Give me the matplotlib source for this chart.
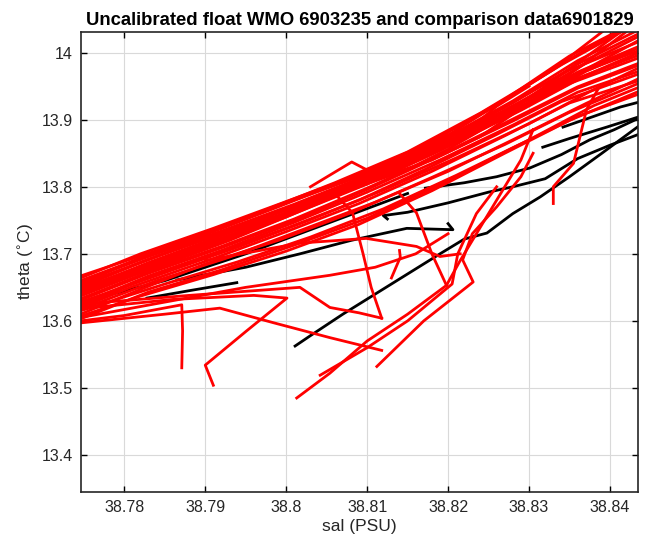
import matplotlib.pyplot as plt

# float profiles forming the main red band (salinity, theta)
band_sal = [
    [38.7746, 38.783, 38.792, 38.801, 38.810, 38.819, 38.828, 38.836, 38.8435],
    [38.7746, 38.782, 38.790, 38.799, 38.808, 38.818, 38.827, 38.835, 38.8435],
    [38.7746, 38.784, 38.793, 38.802, 38.811, 38.820, 38.829, 38.837, 38.8435],
    [38.7746, 38.781, 38.791, 38.800, 38.809, 38.817, 38.826, 38.834, 38.8435],
    [38.7746, 38.785, 38.794, 38.803, 38.812, 38.821, 38.830, 38.838, 38.8435],
    [38.7746, 38.783, 38.792, 38.801, 38.810, 38.819, 38.828, 38.836, 38.8435],
    [38.7746, 38.782, 38.791, 38.800, 38.809, 38.818, 38.827, 38.835, 38.8435],
    [38.7746, 38.784, 38.793, 38.802, 38.811, 38.820, 38.829, 38.837, 38.8435],
    [38.7746, 38.783, 38.792, 38.801, 38.810, 38.819, 38.828, 38.836, 38.8435],
    [38.7746, 38.781, 38.790, 38.799, 38.808, 38.817, 38.826, 38.835, 38.8435],
    [38.7746, 38.784, 38.793, 38.802, 38.811, 38.820, 38.829, 38.837, 38.8435],
    [38.7746, 38.783, 38.792, 38.801, 38.810, 38.819, 38.828, 38.836, 38.8435],
    [38.7746, 38.782, 38.791, 38.800, 38.809, 38.818, 38.827, 38.835, 38.8435],
    [38.7746, 38.785, 38.794, 38.803, 38.812, 38.821, 38.830, 38.838, 38.8435],
    [38.7746, 38.783, 38.792, 38.801, 38.810, 38.819, 38.828, 38.836, 38.8435],
    [38.7746, 38.782, 38.790, 38.799, 38.808, 38.817, 38.826, 38.834, 38.8435],
    [38.7746, 38.784, 38.793, 38.802, 38.811, 38.820, 38.829, 38.837, 38.8435],
    [38.7746, 38.783, 38.792, 38.801, 38.810, 38.819, 38.828, 38.836, 38.8435],
    [38.7746, 38.781, 38.791, 38.800, 38.809, 38.818, 38.827, 38.835, 38.8435],
    [38.7746, 38.784, 38.793, 38.802, 38.811, 38.820, 38.829, 38.837, 38.8435],
    [38.7746, 38.783, 38.792, 38.801, 38.810, 38.819, 38.828, 38.836, 38.8435],
    [38.7746, 38.782, 38.791, 38.800, 38.809, 38.818, 38.827, 38.835, 38.8435],
    [38.7746, 38.783, 38.791, 38.799, 38.807, 38.816, 38.825, 38.834, 38.8435],
    [38.7746, 38.784, 38.792, 38.800, 38.809, 38.818, 38.826, 38.835, 38.8435],
    [38.7746, 38.782, 38.790, 38.798, 38.806, 38.815, 38.824, 38.833, 38.8400],
    [38.7746, 38.785, 38.793, 38.801, 38.810, 38.819, 38.827, 38.836, 38.8435],
    [38.7950, 38.803, 38.806, 38.812, 38.818, 38.824, 38.830, 38.837, 38.8435],
    [38.8000, 38.806, 38.809, 38.815, 38.820, 38.826, 38.832, 38.838, 38.8435],
]
band_theta = [
    [13.603, 13.643, 13.676, 13.713, 13.753, 13.803, 13.858, 13.905, 13.938],
    [13.610, 13.647, 13.685, 13.720, 13.761, 13.814, 13.863, 13.911, 13.954],
    [13.617, 13.660, 13.695, 13.736, 13.777, 13.823, 13.876, 13.924, 13.961],
    [13.622, 13.655, 13.699, 13.738, 13.780, 13.825, 13.878, 13.927, 13.968],
    [13.628, 13.672, 13.710, 13.751, 13.795, 13.843, 13.894, 13.945, 13.977],
    [13.633, 13.673, 13.711, 13.752, 13.798, 13.847, 13.901, 13.949, 13.984],
    [13.637, 13.672, 13.714, 13.755, 13.801, 13.851, 13.903, 13.954, 13.992],
    [13.642, 13.686, 13.725, 13.768, 13.810, 13.860, 13.914, 13.966, 14.000],
    [13.646, 13.687, 13.727, 13.766, 13.808, 13.860, 13.917, 13.971, 14.009],
    [13.650, 13.682, 13.724, 13.763, 13.805, 13.855, 13.913, 13.974, 14.016],
    [13.654, 13.696, 13.734, 13.774, 13.816, 13.868, 13.927, 13.984, 14.024],
    [13.658, 13.696, 13.734, 13.774, 13.817, 13.868, 13.928, 13.988, 14.034],
    [13.664, 13.700, 13.738, 13.778, 13.818, 13.868, 13.930, 13.995, 14.048],
    [13.615, 13.655, 13.688, 13.725, 13.767, 13.817, 13.870, 13.921, 13.948],
    [13.625, 13.667, 13.705, 13.747, 13.792, 13.840, 13.892, 13.941, 13.972],
    [13.639, 13.674, 13.710, 13.754, 13.801, 13.854, 13.908, 13.959, 14.003],
    [13.648, 13.690, 13.728, 13.768, 13.812, 13.863, 13.920, 13.975, 14.018],
    [13.631, 13.671, 13.709, 13.750, 13.796, 13.846, 13.898, 13.947, 13.981],
    [13.620, 13.651, 13.693, 13.733, 13.775, 13.823, 13.876, 13.925, 13.958],
    [13.644, 13.689, 13.727, 13.769, 13.812, 13.862, 13.917, 13.972, 14.007],
    [13.652, 13.692, 13.731, 13.771, 13.814, 13.865, 13.925, 13.983, 14.028],
    [13.607, 13.637, 13.669, 13.704, 13.744, 13.794, 13.850, 13.899, 13.942],
    [13.660, 13.698, 13.733, 13.770, 13.808, 13.855, 13.915, 13.982, 14.045],
    [13.667, 13.705, 13.740, 13.776, 13.815, 13.862, 13.922, 13.990, 14.050],
    [13.655, 13.694, 13.730, 13.768, 13.806, 13.852, 13.910, 13.975, 14.040],
    [13.641, 13.684, 13.720, 13.760, 13.804, 13.854, 13.906, 13.962, 13.996],
    [13.745, 13.782, 13.795, 13.815, 13.840, 13.875, 13.925, 13.985, 14.045],
    [13.765, 13.790, 13.800, 13.826, 13.856, 13.898, 13.950, 14.002, 14.050],
]

# float profiles straying below the band
stray_sal = [
    [38.7746, 38.7800, 38.7871, 38.7872, 38.7871],
    [38.7746, 38.7850, 38.7918, 38.7985, 38.8054, 38.8118],
    [38.7746, 38.7860, 38.7960, 38.8001, 38.7950, 38.7900, 38.7910],
    [38.7746, 38.7880, 38.7960, 38.8017, 38.8054, 38.8090, 38.8118],
    [38.7746, 38.7850, 38.7950, 38.8054, 38.8110, 38.8160, 38.8200],
    [38.8013, 38.8054, 38.8100, 38.8150, 38.8198, 38.8215, 38.8240, 38.8265, 38.8290, 38.8305],
    [38.8042, 38.8100, 38.8150, 38.8205, 38.8212, 38.8235, 38.8260],
    [38.8112, 38.8170, 38.8231, 38.8218, 38.8230, 38.8260, 38.8290, 38.8305],
    [38.8060, 38.8082, 38.8095, 38.8105, 38.8118],
    [38.8140, 38.8161, 38.8180, 38.8198],
    [38.8385, 38.8371, 38.8355, 38.8330, 38.8330],
    [38.8130, 38.8141, 38.8140],
    [38.8030, 38.8081, 38.8100, 38.8150, 38.8194, 38.8230, 38.8260, 38.8300],
    [38.7900, 38.8017, 38.8099, 38.8161, 38.8190, 38.8215],
]
stray_theta = [
    [13.600, 13.608, 13.624, 13.585, 13.530],
    [13.597, 13.610, 13.619, 13.597, 13.575, 13.556],
    [13.618, 13.632, 13.638, 13.634, 13.584, 13.534, 13.504],
    [13.625, 13.638, 13.645, 13.650, 13.620, 13.612, 13.604],
    [13.605, 13.628, 13.650, 13.668, 13.680, 13.700, 13.730],
    [13.485, 13.522, 13.570, 13.610, 13.653, 13.690, 13.740, 13.790, 13.840, 13.885],
    [13.519, 13.560, 13.600, 13.655, 13.700, 13.760, 13.800],
    [13.532, 13.600, 13.658, 13.691, 13.730, 13.770, 13.815, 13.850],
    [13.790, 13.761, 13.700, 13.650, 13.604],
    [13.790, 13.761, 13.700, 13.653],
    [13.945, 13.915, 13.835, 13.800, 13.775],
    [13.664, 13.695, 13.705],
    [13.800, 13.837, 13.825, 13.845, 13.875, 13.890, 13.920, 13.950],
    [13.690, 13.716, 13.723, 13.711, 13.696, 13.700],
]

# comparison data (black)
comp_sal = [
    [38.7746, 38.785, 38.795, 38.805, 38.815],
    [38.8011, 38.8030, 38.8070, 38.8110, 38.8150, 38.8190, 38.8220, 38.8248, 38.8280,
     38.8314, 38.8350, 38.8390, 38.8435],
    [38.7828, 38.7880, 38.7939],
    [38.7865, 38.7950, 38.8017, 38.8080, 38.8149, 38.8206, 38.8200],
    [38.8125, 38.8120, 38.8150, 38.8200, 38.8250, 38.8280, 38.8320, 38.8360, 38.8400, 38.8435],
    [38.8172, 38.8220, 38.8260, 38.8301, 38.8340, 38.8375, 38.8405, 38.8435],
    [38.8317, 38.8350, 38.8396, 38.8435],
    [38.8342, 38.8380, 38.8413, 38.8435],
]
comp_theta = [
    [13.628, 13.660, 13.700, 13.745, 13.790],
    [13.5625, 13.578, 13.610, 13.640, 13.670, 13.700, 13.722, 13.731, 13.760,
     13.785, 13.815, 13.850, 13.890],
    [13.634, 13.645, 13.657],
    [13.661, 13.680, 13.700, 13.720, 13.738, 13.736, 13.745],
    [13.752, 13.757, 13.762, 13.776, 13.792, 13.800, 13.812, 13.842, 13.862, 13.878],
    [13.798, 13.806, 13.815, 13.828, 13.848, 13.870, 13.885, 13.902],
    [13.859, 13.872, 13.889, 13.904],
    [13.889, 13.905, 13.919, 13.926],
]

xticks = [38.78, 38.79, 38.80, 38.81, 38.82, 38.83, 38.84]
xticklabels = ['38.78', '38.79', '38.8', '38.81', '38.82', '38.83', '38.84']
yticks = [13.4, 13.5, 13.6, 13.7, 13.8, 13.9, 14.0]
yticklabels = ['13.4', '13.5', '13.6', '13.7', '13.8', '13.9', '14']

plt.rcParams['font.family'] = ['Liberation Sans', 'DejaVu Sans']

fig = plt.figure(figsize=(6.49, 5.52), dpi=100)
ax = fig.add_axes([0.1248, 0.1087, 0.983 - 0.1248, 0.9426 - 0.1087])

for s, t in zip(comp_sal, comp_theta):
    ax.plot(s, t, color='k', linewidth=2)
for s, t in zip(band_sal, band_theta):
    ax.plot(s, t, color='r', linewidth=2)
for s, t in zip(stray_sal, stray_theta):
    ax.plot(s, t, color='r', linewidth=2)

ax.set_xlim(38.77465, 38.84346)
ax.set_ylim(13.3448, 14.0313)
ax.set_xticks(xticks)
ax.set_xticklabels(xticklabels)
ax.set_yticks(yticks)
ax.set_yticklabels(yticklabels)
ax.grid(True, color='#d9d9d9', linewidth=0.8)
ax.set_axisbelow(True)
ax.tick_params(direction='in', top=True, right=True, length=4, width=1,
               labelsize=11.5, labelcolor='#262626', pad=6)
for sp in ax.spines.values():
    sp.set_linewidth(1.2)
    sp.set_color('#262626')

ax.set_xlabel('sal (PSU)', fontsize=12.5, color='#262626', labelpad=3)
ax.set_ylabel(r'theta ($^{\circ}$C)', fontsize=12.5, color='#262626', labelpad=4)
ax.set_title('Uncalibrated float WMO 6903235 and comparison data6901829',
             fontsize=13.3, fontweight='bold', pad=5)

fig.savefig('out.png', dpi=100)
